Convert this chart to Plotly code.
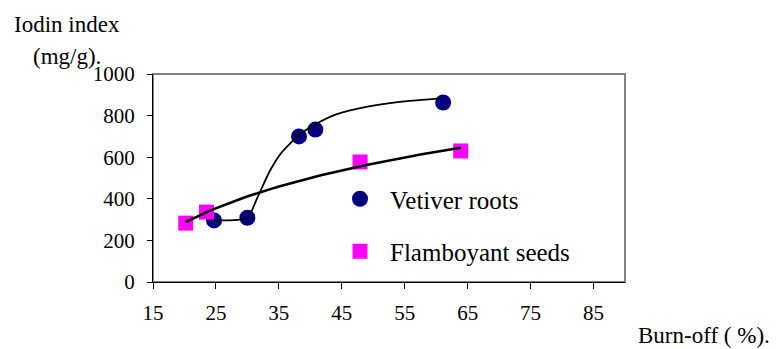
import numpy as np
import plotly.graph_objects as go

# ---- data ----
vetiver_x = [24.7, 30.0, 38.2, 40.8, 61.1]
vetiver_y = [296, 309, 700, 733, 863]

flamboyant_x = [20.2, 23.5, 47.9, 63.9]
flamboyant_y = [283, 336, 577, 630]

# hand-drawn smoothing curve through the vetiver points
vetiver_curve_x = [24.7, 30.0, 31.5, 33.6, 35.5, 38.2, 40.8, 44.0, 48.9, 54.2, 60.6]
vetiver_curve_y = [296, 309, 400, 536, 625, 706, 758, 805, 842, 866, 883]

x_ticks = [15, 25, 35, 45, 55, 65, 75, 85]
y_ticks = [0, 200, 400, 600, 800, 1000]

FONT = "Liberation Serif, Times New Roman, serif"

# logarithmic trend line (least squares) for flamboyant seeds
lx = np.log(np.array(flamboyant_x))
b, a = np.polyfit(lx, np.array(flamboyant_y), 1)
fx = np.linspace(min(flamboyant_x), max(flamboyant_x), 60)
fy = a + b * np.log(fx)

fig = go.Figure()

fig.add_trace(go.Scatter(
    x=vetiver_x, y=vetiver_y, mode="markers", name="Vetiver roots",
    legendgroup="a",
    marker=dict(symbol="circle", size=16, color="#000080")))
fig.add_trace(go.Scatter(
    x=flamboyant_x, y=flamboyant_y, mode="markers", name="Flamboyant seeds",
    legendgroup="b",
    marker=dict(symbol="square", size=15, color="#FF00FF")))

fig.add_trace(go.Scatter(
    x=vetiver_curve_x, y=vetiver_curve_y, mode="lines",
    line=dict(color="black", width=1.8, shape="spline", smoothing=0.6),
    showlegend=False, hoverinfo="skip"))
fig.add_trace(go.Scatter(
    x=fx, y=fy, mode="lines",
    line=dict(color="black", width=2.6),
    showlegend=False, hoverinfo="skip"))

W, H = 777, 349
L, R, T, B = 153, 152, 74, 67

def px_x(p):
    return (p - L) / (W - L - R)

def px_y(p):
    return (H - B - p) / (H - T - B)

fig.update_layout(
    width=W, height=H,
    margin=dict(l=L, r=R, t=T, b=B),
    paper_bgcolor="white", plot_bgcolor="white",
    font=dict(family=FONT, color="black", size=21),
    showlegend=True,
    legend=dict(
        x=px_x(330), y=px_y(176), xanchor="left", yanchor="top",
        bgcolor="rgba(0,0,0,0)", borderwidth=0,
        font=dict(family=FONT, size=25, color="black"),
        itemwidth=50, traceorder="grouped", tracegroupgap=17,
    ),
    shapes=[dict(type="rect", xref="paper", yref="paper", x0=0, x1=1, y0=0, y1=1,
                 line=dict(color="#808080", width=2), layer="below")],
    annotations=[
        dict(text="Iodin index", xref="paper", yref="paper",
             x=px_x(12), y=px_y(25), xanchor="left", yanchor="middle",
             showarrow=False, font=dict(family=FONT, size=23, color="black")),
        dict(text="(mg/g).", xref="paper", yref="paper",
             x=px_x(31), y=px_y(56), xanchor="left", yanchor="middle",
             showarrow=False, font=dict(family=FONT, size=23, color="black")),
        dict(text="Burn-off ( %).", xref="paper", yref="paper",
             x=px_x(636), y=px_y(335), xanchor="left", yanchor="middle",
             showarrow=False, font=dict(family=FONT, size=23, color="black")),
    ],
)

fig.update_xaxes(
    range=[15, 90], tickvals=x_ticks, ticktext=[str(v) for v in x_ticks],
    showgrid=False, zeroline=False, showline=True, linecolor="black", linewidth=1,
    ticks="outside", ticklen=6, tickcolor="black", tickwidth=1,
    ticklabelstandoff=6, tickfont=dict(family=FONT, size=21),
)
fig.update_yaxes(
    range=[0, 1000], tickvals=y_ticks, ticktext=[str(v) for v in y_ticks],
    showgrid=False, zeroline=False, showline=True, linecolor="black", linewidth=1,
    ticks="outside", ticklen=5, tickcolor="black", tickwidth=1,
    ticklabelstandoff=8, tickfont=dict(family=FONT, size=21),
)

fig.write_html("out.html")
